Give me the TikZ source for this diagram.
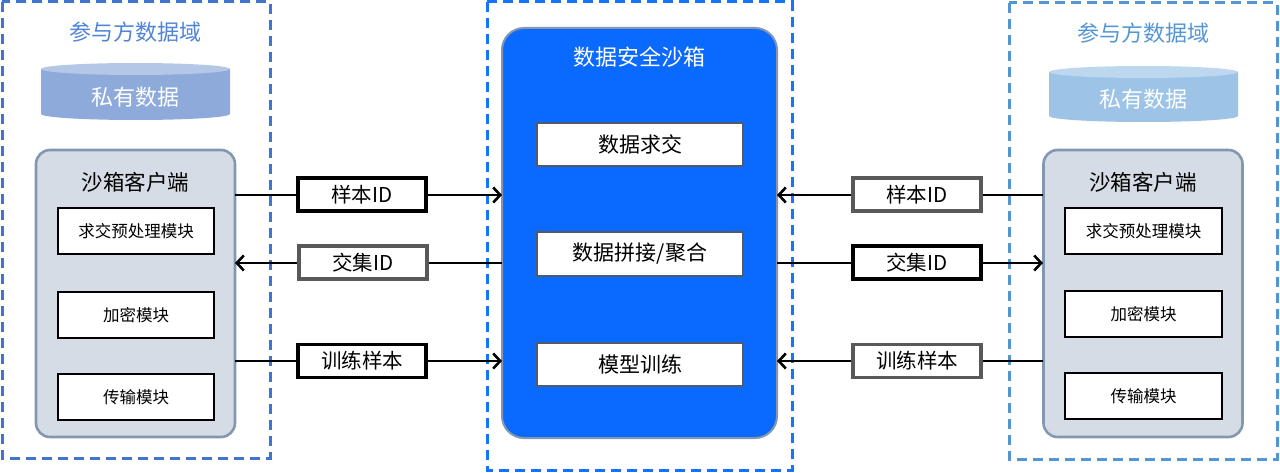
\documentclass[tikz,border=0pt]{standalone}
\usepackage{fontspec}
\setmainfont{Noto Sans CJK SC}
\usetikzlibrary{arrows.meta}
\definecolor{lblue}{RGB}{64,116,206}
\definecolor{ltext}{RGB}{80,132,214}
\definecolor{rblue}{RGB}{84,150,212}
\definecolor{cblue}{RGB}{20,116,252}
\definecolor{sbfill}{RGB}{10,106,255}
\definecolor{clfill}{RGB}{214,220,229}
\definecolor{clborder}{RGB}{132,151,176}
\definecolor{lcylbody}{RGB}{142,170,219}
\definecolor{lcyltop}{RGB}{180,199,231}
\definecolor{rcylbody}{RGB}{157,195,230}
\definecolor{rcyltop}{RGB}{189,215,238}
\definecolor{lgray}{RGB}{89,89,89}
\tikzset{
  domain/.style={draw=#1, line width=3pt, dash pattern=on 10pt off 6pt},
  client/.style={draw=clborder, fill=clfill, line width=2.6pt, rounded corners=14pt, inner sep=0pt},
  module/.style={draw=black, fill=white, line width=1.6pt, inner sep=0pt, font=\fontsize{16.5}{20}\selectfont},
  inmod/.style={draw=clborder!60!black, fill=white, line width=1.4pt, inner sep=0pt, font=\fontsize{21}{24}\selectfont},
  lbl/.style={draw=#1, fill=white, line width=3.2pt, inner sep=0pt, minimum width=128pt, minimum height=33pt, font=\fontsize{20.5}{24}\selectfont},
  conn/.style={line width=2.6pt, -{Straight Barb[length=7pt,width=15pt,line width=2.6pt]}},
}
\begin{document}
\begin{tikzpicture}[x=1pt,y=-1pt]
\useasboundingbox (0,0) rectangle (1280,473);
% domains
\draw[domain=lblue] (2,2) rectangle (270,458);
\draw[domain=rblue] (1009,3) rectangle (1277,459);
\draw[domain=cblue] (487,2) rectangle (792,470);
\node[text=ltext, font=\fontsize{22}{26}\selectfont] (ltitle) at (135,32) {参与方数据域};
\node[text=rblue, font=\fontsize{22}{26}\selectfont] (rtitle) at (1143,33) {参与方数据域};
% cylinders
\fill[lcylbody] (41,69) -- (41,114) arc[start angle=180,end angle=360,x radius=94.5pt,y radius=6pt] -- (230,69) -- cycle;
\fill[lcyltop] (135.5,69) ellipse[x radius=94.5pt,y radius=6pt];
\node[text=white, font=\fontsize{22}{26}\selectfont] (ldata) at (135.5,97) {私有数据};
\fill[rcylbody] (1049,72) -- (1049,116) arc[start angle=180,end angle=360,x radius=94.5pt,y radius=6pt] -- (1238,72) -- cycle;
\fill[rcyltop] (1143.5,72) ellipse[x radius=94.5pt,y radius=6pt];
\node[text=white, font=\fontsize{22}{26}\selectfont] (rdata) at (1143.5,99) {私有数据};
% clients
\node[client, minimum width=199pt, minimum height=287pt] (lcl) at (135.5,293.5) {};
\node[font=\fontsize{21.5}{26}\selectfont] (lcltitle) at (135.5,182) {沙箱客户端};
\node[module, minimum width=156pt, minimum height=46pt] (lm1) at (136,231) {求交预处理模块};
\node[module, minimum width=156pt, minimum height=46pt] (lm2) at (136,315) {加密模块};
\node[module, minimum width=156pt, minimum height=46pt] (lm3) at (136,397) {传输模块};
\node[client, minimum width=199pt, minimum height=287pt] (rcl) at (1143,293.5) {};
\node[font=\fontsize{21.5}{26}\selectfont] (rcltitle) at (1143,182) {沙箱客户端};
\node[module, minimum width=157pt, minimum height=46pt] (rm1) at (1143.5,231) {求交预处理模块};
\node[module, minimum width=157pt, minimum height=46pt] (rm2) at (1143.5,314) {加密模块};
\node[module, minimum width=157pt, minimum height=46pt] (rm3) at (1143.5,396) {传输模块};
% sandbox
\node[draw=clborder, fill=sbfill, line width=2pt, rounded corners=22pt, minimum width=275pt, minimum height=410pt] (sb) at (639.5,233) {};
\node[text=white, font=\fontsize{22}{26}\selectfont] (sbtitle) at (639.5,57) {数据安全沙箱};
\node[inmod, minimum width=206pt, minimum height=43pt] (s1) at (640,144.5) {数据求交};
\node[inmod, minimum width=206pt, minimum height=44pt] (s2) at (640,254) {数据拼接/聚合};
\node[inmod, minimum width=206pt, minimum height=43pt] (s3) at (640,364.5) {模型训练};
% coordinates on borders
\coordinate (lc1) at (235,195); \coordinate (lc2) at (235,263); \coordinate (lc3) at (235,361);
\coordinate (rc1) at (1043,195); \coordinate (rc2) at (1043,263); \coordinate (rc3) at (1043,361);
\coordinate (sl1) at (502,195); \coordinate (sl2) at (502,263); \coordinate (sl3) at (502,361);
\coordinate (sr1) at (777,195); \coordinate (sr2) at (777,263); \coordinate (sr3) at (777,361);
% connectors
\draw[conn] (lc1) -- (sl1);
\draw[conn] (sl2) -- (lc2);
\draw[conn] (lc3) -- (sl3);
\draw[conn] (rc1) -- (sr1);
\draw[conn] (sr2) -- (rc2);
\draw[conn] (rc3) -- (sr3);
% labels
\node[lbl=black] (a1) at (362,194.5) {样本ID};
\node[lbl=lgray] (a2) at (363,262.5) {交集ID};
\node[lbl=black] (a3) at (362,361) {训练样本};
\node[lbl=lgray] (b1) at (917,194.5) {样本ID};
\node[lbl=black] (b2) at (917,262.5) {交集ID};
\node[lbl=lgray] (b3) at (917,361) {训练样本};
\end{tikzpicture}
\end{document}
